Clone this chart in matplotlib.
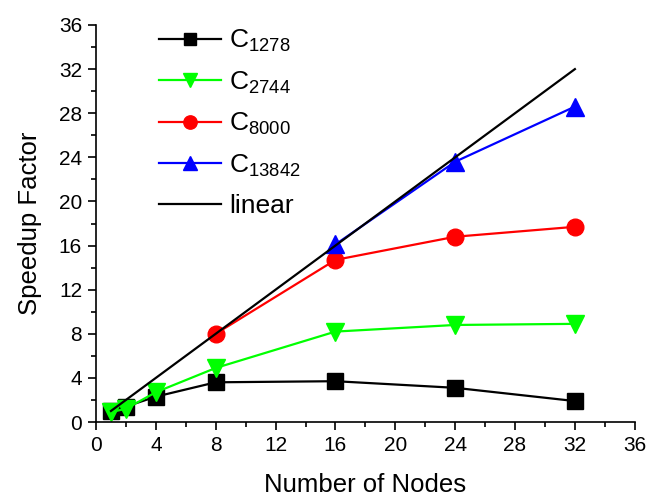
import matplotlib
matplotlib.use("Agg")
import matplotlib.pyplot as plt
from matplotlib.ticker import MultipleLocator

plt.rcParams['font.family'] = ['Liberation Sans', 'DejaVu Sans']
plt.rcParams['mathtext.fontset'] = 'custom'
plt.rcParams['mathtext.rm'] = 'Liberation Sans'
plt.rcParams['mathtext.it'] = 'Liberation Sans:italic'

nodes = [1, 2, 4, 8, 16, 24, 32]
c1278 = [1.0, 1.4, 2.3, 3.6, 3.7, 3.1, 1.9]
c2744 = [0.9, 1.2, 2.7, 4.9, 8.2, 8.8, 8.9]
nodes_8000 = [8, 16, 24, 32]
c8000 = [8.0, 14.7, 16.8, 17.7]
nodes_13842 = [16, 24, 32]
c13842 = [16.1, 23.6, 28.6]
linear_x = [1, 32]
linear_y = [1, 32]

fig = plt.figure(figsize=(6.46, 4.98), dpi=100)
ax = fig.add_axes([0.1486, 0.1526, 0.834, 0.7972])

ax.plot(nodes, c1278, color='black', marker='s', markersize=11, lw=1.6, label=r'C$_{1278}$')
ax.plot(nodes, c2744, color='#00ff00', marker='v', markersize=13, lw=1.6, label=r'C$_{2744}$')
ax.plot(nodes_8000, c8000, color='red', marker='o', markersize=12, lw=1.6, label=r'C$_{8000}$')
ax.plot(nodes_13842, c13842, color='blue', marker='^', markersize=13, lw=1.6, label=r'C$_{13842}$')
ax.plot(linear_x, linear_y, color='black', lw=1.6, label='linear')

ax.set_xlim(0, 36)
ax.set_ylim(0, 36)
ax.xaxis.set_major_locator(MultipleLocator(4))
ax.yaxis.set_major_locator(MultipleLocator(4))
ax.xaxis.set_minor_locator(MultipleLocator(2))
ax.yaxis.set_minor_locator(MultipleLocator(2))
ax.tick_params(which='major', direction='out', length=6, width=1.2, labelsize=15, pad=4)
ax.tick_params(which='minor', direction='out', length=3.5, width=1.2)
for s in ['top', 'right']:
    ax.spines[s].set_visible(False)
for s in ['left', 'bottom']:
    ax.spines[s].set_linewidth(1.2)

ax.set_xlabel('Number of Nodes', fontsize=18.5, labelpad=13)
ax.set_ylabel('Speedup Factor', fontsize=18.5, labelpad=12)

leg = ax.legend(loc='upper left', bbox_to_anchor=(0.073, 1.052), frameon=False,
                fontsize=19, handlelength=2.35, labelspacing=0.58, handletextpad=0.3,
                markerscale=0.8)

fig.savefig('out.png', dpi=100)
